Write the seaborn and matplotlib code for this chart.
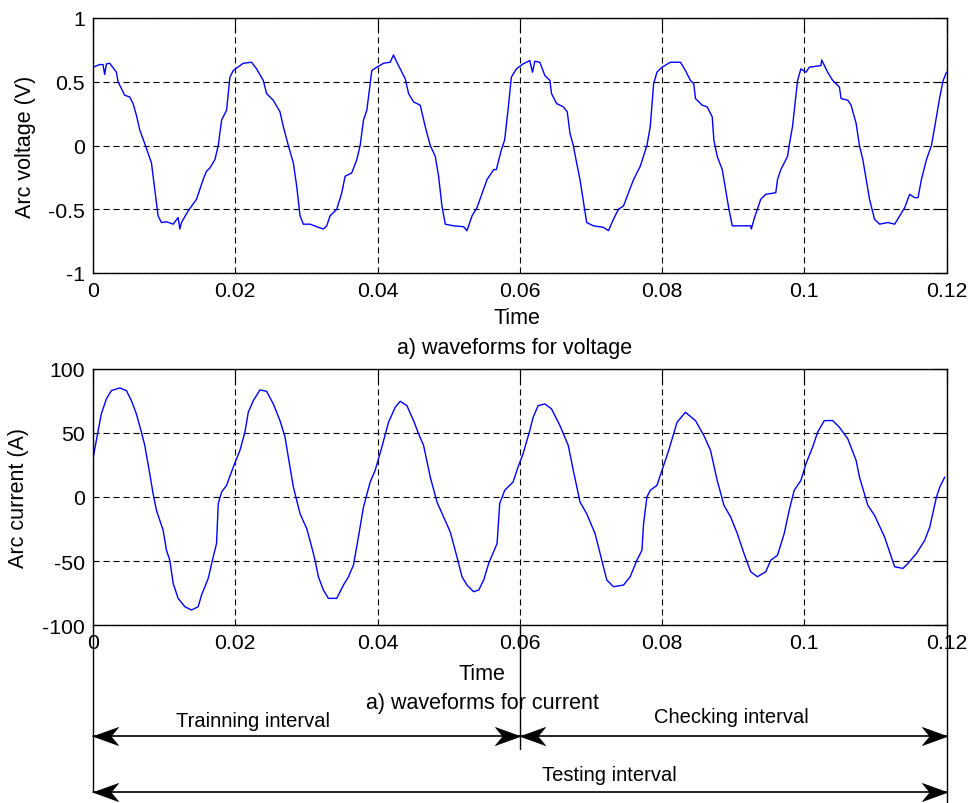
import numpy as np
import matplotlib
matplotlib.use("Agg")
import matplotlib.pyplot as plt
from matplotlib.path import Path
from matplotlib.transforms import blended_transform_factory
import seaborn as sns

# Arc voltage samples
t_voltage = [0.0, 0.00094, 0.00141, 0.00164, 0.00188, 0.00235, 0.00329, 0.00352, 0.00446, 0.00516,
             0.00563, 0.0061, 0.00657, 0.00737, 0.00822, 0.00869, 0.00915, 0.00962, 0.01033, 0.01127,
             0.01197, 0.01221, 0.01244, 0.01338, 0.01455, 0.01549, 0.01596, 0.01643, 0.01714, 0.01761,
             0.01808, 0.01878, 0.01925, 0.01972, 0.02113, 0.0223, 0.023, 0.02394, 0.02441, 0.02535,
             0.02629, 0.02676, 0.02746, 0.02817, 0.02864, 0.02911, 0.02958, 0.03052, 0.03169, 0.03239,
             0.03286, 0.03333, 0.03427, 0.03498, 0.03545, 0.03638, 0.03709, 0.03756, 0.03803, 0.0385,
             0.0392, 0.03991, 0.04085, 0.04178, 0.04225, 0.04272, 0.0439, 0.04437, 0.04507, 0.04601,
             0.04671, 0.04742, 0.04812, 0.04859, 0.04906, 0.04953, 0.0507, 0.05211, 0.05258, 0.05329,
             0.05399, 0.0554, 0.05634, 0.05671, 0.05741, 0.05788, 0.05835, 0.05882, 0.05953, 0.06047,
             0.06141, 0.06179, 0.06212, 0.06282, 0.06353, 0.06424, 0.06447, 0.06518, 0.06612, 0.06668,
             0.06706, 0.06753, 0.068, 0.06847, 0.06941, 0.07035, 0.07176, 0.07247, 0.07318, 0.07388,
             0.07459, 0.07529, 0.076, 0.07694, 0.07788, 0.07835, 0.07882, 0.07929, 0.08, 0.08118,
             0.08259, 0.08329, 0.084, 0.08447, 0.08471, 0.08565, 0.08635, 0.08706, 0.08729, 0.08776,
             0.08847, 0.08941, 0.08988, 0.09106, 0.09247, 0.09256, 0.09294, 0.09388, 0.09459, 0.096,
             0.09624, 0.09671, 0.09765, 0.09788, 0.09835, 0.09906, 0.09953, 0.10024, 0.10071, 0.10235,
             0.10245, 0.10329, 0.104, 0.10494, 0.10518, 0.10612, 0.10659, 0.10729, 0.10776, 0.10824,
             0.10918, 0.10988, 0.11059, 0.11176, 0.11271, 0.11341, 0.11412, 0.11482, 0.11553, 0.116,
             0.11647, 0.11718, 0.11788, 0.11835, 0.11906, 0.11953, 0.12]
arc_voltage = [0.614, 0.635, 0.635, 0.557, 0.64, 0.645, 0.575, 0.5, 0.394, 0.381,
               0.329, 0.238, 0.122, 0.0, -0.137, -0.345, -0.552, -0.604, -0.598, -0.617,
               -0.565, -0.655, -0.604, -0.513, -0.422, -0.267, -0.202, -0.176, -0.111, 0.0,
               0.199, 0.277, 0.536, 0.588, 0.645, 0.653, 0.601, 0.51, 0.407, 0.355,
               0.264, 0.148, 0.0, -0.137, -0.319, -0.552, -0.617, -0.617, -0.642, -0.655,
               -0.63, -0.552, -0.5, -0.37, -0.241, -0.215, -0.111, 0.0, 0.199, 0.277,
               0.588, 0.614, 0.645, 0.653, 0.71, 0.653, 0.523, 0.407, 0.342, 0.316,
               0.148, 0.0, -0.085, -0.241, -0.474, -0.617, -0.63, -0.637, -0.668, -0.552,
               -0.487, -0.267, -0.189, -0.189, -0.034, 0.044, 0.277, 0.536, 0.601, 0.64,
               0.666, 0.575, 0.661, 0.653, 0.549, 0.51, 0.407, 0.329, 0.303, 0.264,
               0.096, 0.0, -0.137, -0.267, -0.604, -0.63, -0.642, -0.668, -0.578, -0.5,
               -0.474, -0.37, -0.267, -0.163, 0.0, 0.148, 0.484, 0.575, 0.614, 0.653,
               0.653, 0.588, 0.51, 0.484, 0.368, 0.316, 0.303, 0.225, 0.044, -0.085,
               -0.189, -0.5, -0.63, -0.63, -0.63, -0.655, -0.578, -0.422, -0.383, -0.37,
               -0.267, -0.189, -0.085, 0.0, 0.148, 0.51, 0.601, 0.575, 0.614, 0.627,
               0.671, 0.575, 0.51, 0.459, 0.368, 0.355, 0.316, 0.174, 0.0, -0.111,
               -0.422, -0.578, -0.617, -0.604, -0.617, -0.552, -0.487, -0.383, -0.409, -0.409,
               -0.267, -0.111, 0.0, 0.148, 0.381, 0.51, 0.575]

# Arc current samples
t_current = [0.0, 0.00047, 0.00117, 0.00188, 0.00258, 0.00376, 0.0047, 0.0054, 0.0061, 0.00681,
             0.00728, 0.00798, 0.00845, 0.00892, 0.00986, 0.01033, 0.0108, 0.01127, 0.01197, 0.01291,
             0.01385, 0.01479, 0.01526, 0.0162, 0.0169, 0.01737, 0.01761, 0.01808, 0.01878, 0.01972,
             0.02066, 0.02136, 0.02183, 0.02254, 0.02347, 0.02441, 0.02535, 0.02629, 0.027, 0.02746,
             0.02817, 0.02911, 0.03005, 0.03075, 0.03122, 0.03169, 0.03239, 0.0331, 0.03427, 0.03521,
             0.03592, 0.03662, 0.03732, 0.03803, 0.03897, 0.03967, 0.04061, 0.04155, 0.04249, 0.04319,
             0.04413, 0.04507, 0.04577, 0.04648, 0.04742, 0.04836, 0.0493, 0.05023, 0.05117, 0.05188,
             0.05258, 0.05352, 0.05423, 0.05493, 0.05563, 0.05681, 0.05718, 0.05788, 0.05906, 0.05976,
             0.06047, 0.06141, 0.06188, 0.06259, 0.06353, 0.06447, 0.06565, 0.06682, 0.06753, 0.06847,
             0.06941, 0.07059, 0.07153, 0.07224, 0.07318, 0.07459, 0.07553, 0.07647, 0.07718, 0.07741,
             0.07788, 0.07835, 0.07929, 0.08, 0.08094, 0.08212, 0.08329, 0.08471, 0.08588, 0.08682,
             0.08776, 0.08871, 0.08965, 0.09059, 0.09153, 0.09247, 0.09341, 0.09459, 0.09529, 0.09624,
             0.09718, 0.09788, 0.09859, 0.09953, 0.10024, 0.10118, 0.10188, 0.10282, 0.104, 0.10494,
             0.10612, 0.10729, 0.10776, 0.10894, 0.10988, 0.11129, 0.11271, 0.11388, 0.11459, 0.11576,
             0.11694, 0.11765, 0.11859, 0.11906, 0.11976]
arc_current = [29.9, 44.2, 64.9, 76.6, 83.1, 85.2, 83.1, 75.3, 64.9, 50.6,
               40.3, 18.2, 2.6, -10.4, -26.0, -41.6, -49.4, -67.5, -79.2, -85.7,
               -88.3, -85.7, -76.6, -63.6, -46.8, -36.4, -5.2, 3.9, 9.1, 23.4,
               36.4, 50.6, 66.2, 75.3, 83.6, 82.6, 72.7, 59.7, 46.8, 31.2,
               7.8, -13.0, -24.7, -39.0, -49.4, -62.3, -72.7, -79.2, -79.2, -68.8,
               -62.3, -53.2, -31.2, -7.8, 11.7, 20.8, 39.0, 58.4, 70.1, 74.8,
               71.4, 59.7, 49.4, 40.3, 15.6, -3.9, -15.6, -27.3, -46.8, -62.3,
               -68.8, -74.0, -72.7, -64.9, -51.9, -36.4, -5.2, 5.2, 11.7, 23.4,
               33.8, 51.9, 62.3, 71.4, 72.7, 68.8, 55.8, 40.3, 20.8, -3.9,
               -13.0, -28.6, -49.4, -64.9, -70.1, -68.8, -62.3, -49.4, -41.6, -20.8,
               0.0, 5.2, 9.1, 20.8, 36.4, 58.4, 66.2, 59.7, 48.1, 36.4,
               13.0, -6.5, -15.6, -28.6, -44.2, -58.4, -62.3, -58.4, -49.4, -45.5,
               -28.6, -10.4, 5.2, 13.0, 26.0, 39.0, 50.6, 59.7, 59.7, 54.5,
               45.5, 28.6, 15.6, -6.5, -14.3, -31.2, -54.5, -55.8, -51.9, -44.2,
               -33.8, -23.4, 0.0, 7.8, 15.6]

x_ticks = [0, 0.02, 0.04, 0.06, 0.08, 0.1, 0.12]
x_tick_labels = ["0", "0.02", "0.04", "0.06", "0.08", "0.1", "0.12"]
v_ticks = [-1, -0.5, 0, 0.5, 1]
v_tick_labels = ["-1", "-0.5", "0", "0.5", "1"]
i_ticks = [-100, -50, 0, 50, 100]
i_tick_labels = ["-100", "-50", "0", "50", "100"]

interval_names = ["Trainning interval", "Checking interval", "Testing interval"]
interval_start = [0.0, 0.06, 0.0]
interval_end = [0.06, 0.12, 0.12]

sns.set_style("white")
plt.rcParams['font.family'] = ['Liberation Sans', 'DejaVu Sans']
plt.rcParams['axes.unicode_minus'] = False
plt.rcParams['text.color'] = 'black'
plt.rcParams['axes.labelcolor'] = 'black'

W, H = 974, 804
fig = plt.figure(figsize=(W / 100, H / 100), dpi=100)


def px(x, y):
    # pixel position (from top-left) -> figure fraction
    return x / W, 1 - y / H


ax1 = fig.add_axes([93 / W, (H - 274) / H, 853.5 / W, 255 / H])
ax2 = fig.add_axes([93 / W, (H - 626) / H, 853.5 / W, 256 / H])

sns.lineplot(x=t_voltage, y=arc_voltage, ax=ax1, color="#0000ff", linewidth=1.0, estimator=None)
sns.lineplot(x=t_current, y=arc_current, ax=ax2, color="#0000ff", linewidth=1.0, estimator=None)

for ax, ticks, labels, lim in [(ax1, v_ticks, v_tick_labels, (-1, 1)),
                               (ax2, i_ticks, i_tick_labels, (-100, 100))]:
    ax.set_xlim(0, 0.12)
    ax.set_ylim(*lim)
    ax.set_xticks(x_ticks)
    ax.set_xticklabels(x_tick_labels)
    ax.set_yticks(ticks)
    ax.set_yticklabels(labels)
    ax.tick_params(direction="in", length=10, width=0.8, top=True, right=True,
                   labelsize=15.3, pad=6, colors="black")
    ax.grid(True, color="black", linestyle=(0, (5.5, 3.5)), linewidth=0.8)
    for sp in ax.spines.values():
        sp.set_color("black")
        sp.set_linewidth(1.0)

ax1.set_ylabel("Arc voltage (V)", fontsize=15.5)
ax1.yaxis.set_label_coords((36 - 93) / 853.5, 0.5)
ax2.set_ylabel("Arc current (A)", fontsize=15.5)
ax2.yaxis.set_label_coords((29 - 93) / 853.5, 0.5)

ax1.set_xlabel("Time", fontsize=15.5)
ax1.xaxis.set_label_coords((517 - 93) / 853.5, (274 - 308) / 255)
ax2.set_xlabel("Time", fontsize=15.5)
ax2.xaxis.set_label_coords((482 - 93) / 853.5, (626 - 664) / 256)

fig.text(*px(515, 349), "a) waveforms for voltage", fontsize=15.5, ha="center", va="center")
fig.text(*px(482, 704), "a) waveforms for current", fontsize=15.5, ha="center", va="center")

# x in data units of the lower panel, y in figure fraction
below = blended_transform_factory(ax2.transData, fig.transFigure)

# boundary lines under the lower panel
for t0, y_top, y_bot in [(0.0, 626, 792), (0.06, 626, 750), (0.12, 626, 804)]:
    ax2.plot([t0, t0], [1 - y_top / H, 1 - y_bot / H], transform=below,
             color="black", lw=1.0, clip_on=False)

# barbed arrow heads, tip at the marker origin
head_right = Path([(0, 0), (-1, 0.36), (-0.7, 0), (-1, -0.36), (0, 0)],
                  [Path.MOVETO, Path.LINETO, Path.LINETO, Path.LINETO, Path.CLOSEPOLY])
head_left = Path([(0, 0), (1, 0.36), (0.7, 0), (1, -0.36), (0, 0)],
                 [Path.MOVETO, Path.LINETO, Path.LINETO, Path.LINETO, Path.CLOSEPOLY])

# interval arrows
arrow_rows = [737, 737, 793]
text_pos = [(253, 722), (731, 718), (609, 776)]
for name, a, b, yr, (tx, ty) in zip(interval_names, interval_start, interval_end, arrow_rows, text_pos):
    yf = 1 - yr / H
    ax2.plot([a, b], [yf, yf], transform=below, color="black", lw=1.2, clip_on=False)
    ax2.plot([a], [yf], transform=below, marker=head_left, markersize=36,
             color="black", mew=0.5, linestyle="none", clip_on=False)
    ax2.plot([b], [yf], transform=below, marker=head_right, markersize=36,
             color="black", mew=0.5, linestyle="none", clip_on=False)
    fig.text(*px(tx, ty), name, fontsize=14.5, ha="center", va="center")

fig.savefig("out.png", dpi=100)
